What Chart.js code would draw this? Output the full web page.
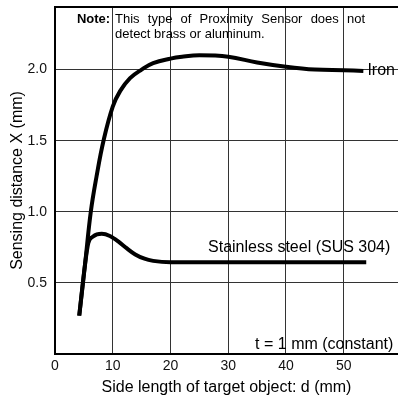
<!DOCTYPE html>
<html>
<head>
<meta charset="utf-8">
<script src="https://cdn.jsdelivr.net/npm/chart.js@4.4.1/dist/chart.umd.min.js"></script>
<style>
html,body{margin:0;padding:0;background:#fff;}
#wrap{width:398px;height:397px;position:relative;}
</style>
</head>
<body>
<div id="wrap"><canvas id="c" width="398" height="397"></canvas></div>
<script>
// Data
const ironX = [4.2, 5.2, 6.2, 7.2, 8.4, 10, 11.3, 13, 15, 17, 20, 22, 25, 30, 35, 40, 45, 50, 53.4];
const ironY = [0.27, 0.63, 1.0, 1.25, 1.5, 1.74, 1.85, 1.94, 2.0, 2.045, 2.077, 2.09, 2.1, 2.09, 2.05, 2.02, 2.0, 1.995, 1.99];
const susX = [4.2, 5.2, 5.77, 6.6, 8.1, 9.5, 11, 12.4, 13.9, 15.5, 17, 20, 30, 40, 50, 53.9];
const susY = [0.27, 0.63, 0.78, 0.826, 0.845, 0.83, 0.79, 0.744, 0.70, 0.67, 0.655, 0.645, 0.645, 0.645, 0.645, 0.645];
const xTicks = [0, 10, 20, 30, 40, 50];
const yTicks = [0.5, 1.0, 1.5, 2.0];
const seriesLabels = ["Iron", "Stainless steel (SUS 304)"];
const noteBold = "Note:";
const noteLine1 = "This type of Proximity Sensor does not";
const noteLine2 = "detect brass or aluminum.";
const constLabel = "t = 1 mm (constant)";
const xTitle = "Side length of target object: d (mm)";
const yTitle = "Sensing distance X (mm)";

const FONT = "'Liberation Sans', Arial, sans-serif";
const NARROW = "'Liberation Sans Narrow', 'Liberation Sans', Arial, sans-serif";

const toPts = (xs, ys) => xs.map((x, i) => ({x: x, y: ys[i]}));

const textPlugin = {
  id: 'texts',
  afterDatasetsDraw(chart) {
    const ctx = chart.ctx;
    const xs = chart.scales.x, ys = chart.scales.y;
    ctx.save();
    ctx.fillStyle = '#000';
    ctx.textBaseline = 'middle';
    // curve labels
    ctx.font = '16px ' + FONT;
    ctx.textAlign = 'left';
    ctx.fillText(seriesLabels[0], xs.getPixelForValue(54.1), ys.getPixelForValue(1.99));
    ctx.fillText(seriesLabels[1], xs.getPixelForValue(26.5), ys.getPixelForValue(0.745));
    ctx.textAlign = 'right';
    ctx.fillText(constLabel, xs.getPixelForValue(58.6), ys.getPixelForValue(0.063));
    // note (justified first line)
    ctx.textAlign = 'left';
    ctx.font = 'bold 13px ' + FONT;
    const nx = xs.getPixelForValue(3.8);
    const y1 = ys.getPixelForValue(2.35);
    const y2 = ys.getPixelForValue(2.25);
    ctx.fillText(noteBold, nx, y1);
    ctx.font = '13px ' + FONT;
    const startX = xs.getPixelForValue(10.4);
    const endX = xs.getPixelForValue(53.7);
    const words = noteLine1.split(' ');
    const wsum = words.reduce((s, w) => s + ctx.measureText(w).width, 0);
    const gap = (endX - startX - wsum) / (words.length - 1);
    let cx = startX;
    words.forEach(w => { ctx.fillText(w, cx, y1); cx += ctx.measureText(w).width + gap; });
    ctx.fillText(noteLine2, startX, y2);
    ctx.restore();
  }
};

new Chart(document.getElementById('c'), {
  type: 'line',
  data: {
    datasets: [
      {label: seriesLabels[0], data: toPts(ironX, ironY), borderColor: '#000', borderWidth: 4, pointRadius: 0, tension: 0.4, fill: false},
      {label: seriesLabels[1], data: toPts(susX, susY), borderColor: '#000', borderWidth: 4, pointRadius: 0, cubicInterpolationMode: 'monotone', fill: false}
    ]
  },
  options: {
    responsive: false,
    animation: false,
    devicePixelRatio: 1,
    layout: {padding: {top: 0, right: 0, left: 0, bottom: 0}},
    plugins: {legend: {display: false}, tooltip: {enabled: false}},
    scales: {
      x: {
        type: 'linear', min: 0, max: 59.4, position: 'bottom',
        afterBuildTicks: s => { s.ticks = xTicks.map(v => ({value: v})); },
        afterFit: s => { s.height = 43; s.paddingLeft = 0; s.paddingRight = 0; },
        ticks: {font: {size: 14, family: NARROW}, color: '#111', padding: 4, maxRotation: 0, callback: v => String(v)},
        grid: {color: '#333', lineWidth: 1, drawTicks: false},
        border: {color: '#000', width: 2},
        title: {display: true, text: xTitle, font: {size: 16, family: FONT}, color: '#000', padding: {top: 2, bottom: 0}}
      },
      xTop: {
        type: 'linear', min: 0, max: 59.4, position: 'top',
        afterFit: s => { s.height = 7; s.paddingLeft = 0; s.paddingRight = 0; },
        ticks: {display: false},
        grid: {display: false, drawTicks: false},
        border: {display: true, color: '#000', width: 2}
      },
      y: {
        type: 'linear', min: 0, max: 2.44,
        afterBuildTicks: s => { s.ticks = yTicks.map(v => ({value: v})); },
        afterFit: s => { s.width = 55; s.paddingTop = 0; s.paddingBottom = 0; },
        ticks: {font: {size: 14, family: NARROW}, color: '#111', padding: 8, callback: v => v.toFixed(1)},
        grid: {color: '#333', lineWidth: 1, drawTicks: false},
        border: {color: '#000', width: 2},
        title: {display: true, text: yTitle, font: {size: 16, family: FONT}, color: '#000', padding: {top: 8, bottom: 0}}
      }
    }
  },
  plugins: [textPlugin]
});
</script>
</body>
</html>
